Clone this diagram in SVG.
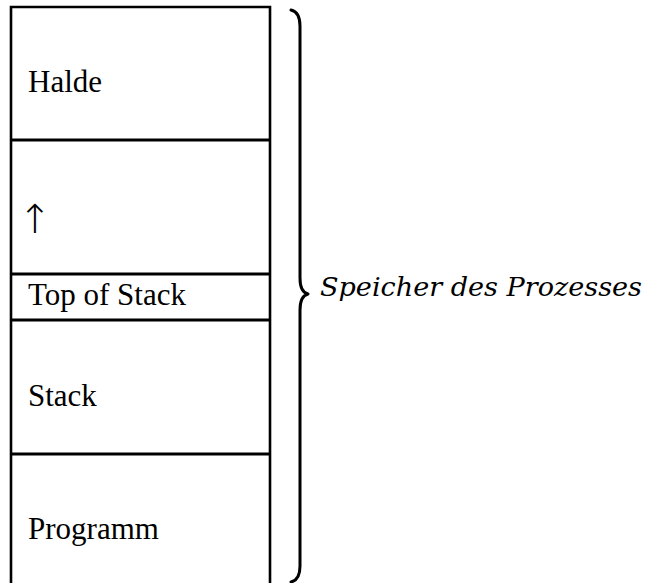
<svg xmlns="http://www.w3.org/2000/svg" width="646" height="583" viewBox="0 0 646 583">
  <style>
    .box { fill: none; stroke: #000; stroke-width: 2.6; }
    .sep { stroke: #000; stroke-width: 3; }
    .lbl { font-family: "Liberation Serif", "Times New Roman", serif; font-size: 31px; fill: #000; }
    .arrow { font-family: "DejaVu Sans", sans-serif; font-weight: 200; font-size: 40px; fill: #000; }
    .math { font-family: "DejaVu Serif", "Liberation Serif", serif; font-style: italic; font-size: 26px; fill: #000; }
    .brace { fill: none; stroke: #000; stroke-width: 3; stroke-linecap: round; stroke-linejoin: round; }
  </style>
  <rect width="646" height="583" fill="#fff"/>

  <!-- outer frame, open at the bottom -->
  <path class="box" d="M11,585 V7 H270 V585"/>

  <g id="halde">
    <text class="lbl" x="28" y="92">Halde</text>
  </g>
  <g id="free">
    <line class="sep" x1="11" y1="140" x2="270" y2="140"/>
    <text class="arrow" x="18" y="233">↑</text>
  </g>
  <g id="top-of-stack">
    <line class="sep" x1="11" y1="274" x2="270" y2="274"/>
    <text class="lbl" x="28" y="305">Top of Stack</text>
  </g>
  <g id="stack">
    <line class="sep" x1="11" y1="320" x2="270" y2="320"/>
    <text class="lbl" x="28" y="406">Stack</text>
  </g>
  <g id="programm">
    <line class="sep" x1="11" y1="454" x2="270" y2="454"/>
    <text class="lbl" x="28" y="539">Programm</text>
  </g>

  <!-- brace spanning the whole memory -->
  <g id="brace">
    <path class="brace" d="M291,10 Q300,12 300,26 V278 Q300,292 308,294 Q300,296 300,310 V566 Q300,580 291,582"/>
    <text class="math" x="320" y="296" textLength="322" lengthAdjust="spacingAndGlyphs">Speicher des Prozesses</text>
  </g>
</svg>
